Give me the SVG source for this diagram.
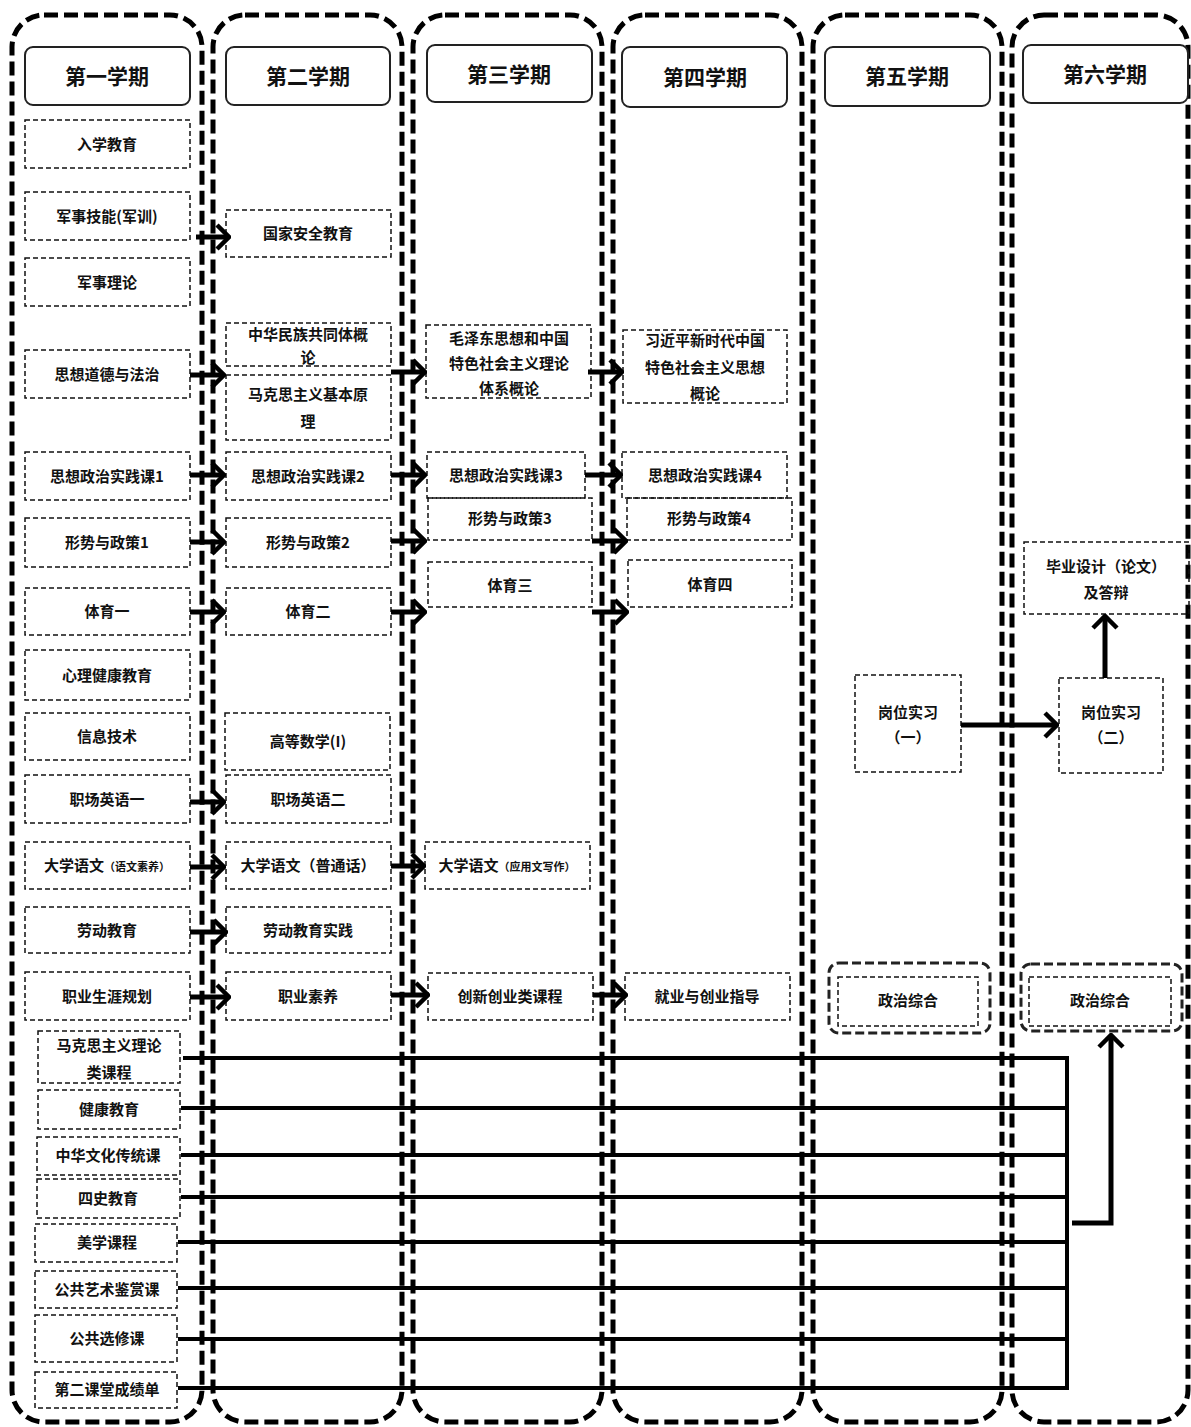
<svg xmlns="http://www.w3.org/2000/svg" width="1191" height="1427" viewBox="0 0 1191 1427">
<style>
.col{fill:none;stroke:#000;stroke-width:5;stroke-dasharray:14 6}
.hdr{fill:#fff;stroke:#222;stroke-width:2}
.box{fill:none;stroke:#111;stroke-width:1.5;stroke-dasharray:5 3}
.obox{fill:none;stroke:#222;stroke-width:3;stroke-dasharray:9 4}
.ht{font-family:"Noto Sans CJK SC","Noto Sans",sans-serif;font-size:21px;font-weight:bold;text-anchor:middle;fill:#111}
.t{font-family:"Noto Sans CJK SC","Noto Sans",sans-serif;font-size:15px;font-weight:bold;text-anchor:middle;fill:#111}
.s{font-size:11px}
.ar{fill:none;stroke:#000;stroke-width:5;marker-end:url(#ah)}
.ln{fill:none;stroke:#000;stroke-width:4}
</style>
<defs>
<marker id="ah" markerUnits="userSpaceOnUse" viewBox="0 0 16 28" refX="14" refY="14" markerWidth="16" markerHeight="28" orient="auto">
<path d="M2,2 L14,14 L2,26" fill="none" stroke="#000" stroke-width="4.5"/>
</marker>
</defs>
<rect width="1191" height="1427" fill="#fff"/>

<g id="semesters">
<rect class="col" x="12" y="15" width="190" height="1407" rx="32"/>
<rect class="col" x="213" y="15" width="189" height="1407" rx="32"/>
<rect class="col" x="413" y="15" width="189" height="1407" rx="32"/>
<rect class="col" x="613" y="15" width="189" height="1407" rx="32"/>
<rect class="col" x="813" y="15" width="189" height="1407" rx="32"/>
<rect class="col" x="1012" y="15" width="176" height="1407" rx="32"/>
</g>

<g id="h1"><rect class="hdr" x="25" y="47" width="165" height="58" rx="8"/><text class="ht" x="107" y="84">第一学期</text></g>
<g id="h2"><rect class="hdr" x="226" y="47" width="164" height="58" rx="8"/><text class="ht" x="308" y="84">第二学期</text></g>
<g id="h3"><rect class="hdr" x="427" y="45" width="165" height="57" rx="8"/><text class="ht" x="509" y="82">第三学期</text></g>
<g id="h4"><rect class="hdr" x="622" y="47" width="165" height="60" rx="8"/><text class="ht" x="705" y="85">第四学期</text></g>
<g id="h5"><rect class="hdr" x="825" y="47" width="165" height="59" rx="8"/><text class="ht" x="907" y="84">第五学期</text></g>
<g id="h6"><rect class="hdr" x="1023" y="45" width="165" height="58" rx="8"/><text class="ht" x="1105" y="82">第六学期</text></g>

<g id="c1-1"><rect class="box" x="25" y="120" width="165" height="48"/><text class="t" x="107" y="150">入学教育</text></g>
<g id="c1-2"><rect class="box" x="25" y="192" width="165" height="48"/><text class="t" x="107" y="222">军事技能(军训)</text></g>
<g id="c1-3"><rect class="box" x="25" y="258" width="165" height="48"/><text class="t" x="107" y="288">军事理论</text></g>
<g id="c1-4"><rect class="box" x="25" y="350" width="165" height="48"/><text class="t" x="107" y="380">思想道德与法治</text></g>
<g id="c1-5"><rect class="box" x="25" y="452" width="165" height="48"/><text class="t" x="107" y="482">思想政治实践课1</text></g>
<g id="c1-6"><rect class="box" x="25" y="518" width="165" height="49"/><text class="t" x="107" y="548">形势与政策1</text></g>
<g id="c1-7"><rect class="box" x="25" y="588" width="165" height="47"/><text class="t" x="107" y="617">体育一</text></g>
<g id="c1-8"><rect class="box" x="25" y="650" width="165" height="50"/><text class="t" x="107" y="681">心理健康教育</text></g>
<g id="c1-9"><rect class="box" x="25" y="713" width="165" height="47"/><text class="t" x="107" y="742">信息技术</text></g>
<g id="c1-10"><rect class="box" x="25" y="775" width="165" height="48"/><text class="t" x="107" y="805">职场英语一</text></g>
<g id="c1-11"><rect class="box" x="25" y="842" width="165" height="47"/><text class="t" x="107" y="871">大学语文<tspan class="s">（语文素养）</tspan></text></g>
<g id="c1-12"><rect class="box" x="25" y="907" width="165" height="46"/><text class="t" x="107" y="936">劳动教育</text></g>
<g id="c1-13"><rect class="box" x="25" y="972" width="165" height="48"/><text class="t" x="107" y="1002">职业生涯规划</text></g>

<g id="g1"><rect class="box" x="38" y="1031" width="142" height="52"/><text class="t" x="109" y="1051">马克思主义理论</text><text class="t" x="109" y="1078">类课程</text></g>
<g id="g2"><rect class="box" x="38" y="1090" width="142" height="39"/><text class="t" x="109" y="1115">健康教育</text></g>
<g id="g3"><rect class="box" x="37" y="1137" width="143" height="38"/><text class="t" x="108" y="1161">中华文化传统课</text></g>
<g id="g4"><rect class="box" x="37" y="1179" width="143" height="39"/><text class="t" x="108" y="1204">四史教育</text></g>
<g id="g5"><rect class="box" x="35" y="1224" width="142" height="38"/><text class="t" x="107" y="1248">美学课程</text></g>
<g id="g6"><rect class="box" x="35" y="1271" width="142" height="37"/><text class="t" x="107" y="1295">公共艺术鉴赏课</text></g>
<g id="g7"><rect class="box" x="35" y="1315" width="142" height="47"/><text class="t" x="107" y="1344">公共选修课</text></g>
<g id="g8"><rect class="box" x="35" y="1372" width="142" height="36"/><text class="t" x="107" y="1395">第二课堂成绩单</text></g>

<g id="c2-1"><rect class="box" x="226" y="210" width="165" height="47"/><text class="t" x="308" y="239">国家安全教育</text></g>
<g id="c2-2"><rect class="box" x="226" y="323" width="165" height="43"/><text class="t" x="308" y="340">中华民族共同体概</text><text class="t" x="308" y="363">论</text></g>
<g id="c2-3"><rect class="box" x="226" y="375" width="165" height="65"/><text class="t" x="308" y="400">马克思主义基本原</text><text class="t" x="308" y="427">理</text></g>
<g id="c2-4"><rect class="box" x="226" y="452" width="165" height="48"/><text class="t" x="308" y="482">思想政治实践课2</text></g>
<g id="c2-5"><rect class="box" x="226" y="518" width="165" height="49"/><text class="t" x="308" y="548">形势与政策2</text></g>
<g id="c2-6"><rect class="box" x="226" y="588" width="165" height="47"/><text class="t" x="308" y="617">体育二</text></g>
<g id="c2-7"><rect class="box" x="225" y="713" width="165" height="57"/><text class="t" x="308" y="747">高等数学(I)</text></g>
<g id="c2-8"><rect class="box" x="226" y="775" width="165" height="48"/><text class="t" x="308" y="805">职场英语二</text></g>
<g id="c2-9"><rect class="box" x="226" y="842" width="165" height="47"/><text class="t" x="308" y="871">大学语文（普通话）</text></g>
<g id="c2-10"><rect class="box" x="226" y="907" width="165" height="46"/><text class="t" x="308" y="936">劳动教育实践</text></g>
<g id="c2-11"><rect class="box" x="226" y="972" width="165" height="48"/><text class="t" x="308" y="1002">职业素养</text></g>

<g id="c3-1"><rect class="box" x="426" y="325" width="165" height="73"/><text class="t" x="509" y="344">毛泽东思想和中国</text><text class="t" x="509" y="369">特色社会主义理论</text><text class="t" x="509" y="394">体系概论</text></g>
<g id="c3-2"><rect class="box" x="427" y="452" width="158" height="46"/><text class="t" x="506" y="481">思想政治实践课3</text></g>
<g id="c3-3"><rect class="box" x="428" y="498" width="164" height="42"/><text class="t" x="510" y="524">形势与政策3</text></g>
<g id="c3-4"><rect class="box" x="428" y="562" width="164" height="45"/><text class="t" x="510" y="591">体育三</text></g>
<g id="c3-5"><rect class="box" x="425" y="842" width="165" height="47"/><text class="t" x="507" y="871">大学语文<tspan class="s">（应用文写作）</tspan></text></g>
<g id="c3-6"><rect class="box" x="428" y="973" width="165" height="47"/><text class="t" x="510" y="1002">创新创业类课程</text></g>

<g id="c4-1"><rect class="box" x="623" y="330" width="164" height="73"/><text class="t" x="705" y="346">习近平新时代中国</text><text class="t" x="705" y="373">特色社会主义思想</text><text class="t" x="705" y="399">概论</text></g>
<g id="c4-2"><rect class="box" x="622" y="452" width="165" height="46"/><text class="t" x="705" y="481">思想政治实践课4</text></g>
<g id="c4-3"><rect class="box" x="627" y="498" width="165" height="42"/><text class="t" x="709" y="524">形势与政策4</text></g>
<g id="c4-4"><rect class="box" x="628" y="560" width="164" height="47"/><text class="t" x="710" y="590">体育四</text></g>
<g id="c4-5"><rect class="box" x="625" y="973" width="165" height="47"/><text class="t" x="707" y="1002">就业与创业指导</text></g>

<g id="c5-1"><rect class="box" x="855" y="675" width="106" height="97"/><text class="t" x="908" y="718">岗位实习</text><text class="t" x="908" y="743">（一）</text></g>
<g id="c5-2"><rect class="obox" x="829" y="963" width="161" height="70" rx="10"/><rect class="box" x="838" y="977" width="140" height="49"/><text class="t" x="908" y="1006">政治综合</text></g>

<g id="c6-1"><rect class="box" x="1024" y="542" width="165" height="72"/><text class="t" x="1106" y="572">毕业设计（论文）</text><text class="t" x="1106" y="598">及答辩</text></g>
<g id="c6-2"><rect class="box" x="1059" y="678" width="104" height="95"/><text class="t" x="1111" y="718">岗位实习</text><text class="t" x="1111" y="743">（二）</text></g>
<g id="c6-3"><rect class="obox" x="1021" y="964" width="161" height="67" rx="10"/><rect class="box" x="1029" y="977" width="142" height="49"/><text class="t" x="1100" y="1006">政治综合</text></g>

<g id="connectors">
<path class="ar" d="M196,237 H229"/>
<path class="ar" d="M190,375 H224"/>
<path class="ar" d="M190,475 H224"/>
<path class="ar" d="M190,542 H224"/>
<path class="ar" d="M190,612 H224"/>
<path class="ar" d="M190,802 H224"/>
<path class="ar" d="M190,867 H224"/>
<path class="ar" d="M190,932 H226"/>
<path class="ar" d="M190,997 H229"/>

<path class="ar" d="M391,372 H425"/>
<path class="ar" d="M391,475 H425"/>
<path class="ar" d="M391,541 H425"/>
<path class="ar" d="M391,612 H425"/>
<path class="ar" d="M391,866 H424"/>
<path class="ar" d="M391,995 H428"/>

<path class="ar" d="M588,372 H622"/>
<path class="ar" d="M585,475 H621"/>
<path class="ar" d="M592,541 H626"/>
<path class="ar" d="M592,612 H627"/>
<path class="ar" d="M593,995 H626"/>

<path class="ar" d="M961,725 H1057"/>
<path class="ar" d="M1105,678 V616"/>

<path class="ln" d="M183,1058 H1067"/>
<path class="ln" d="M181,1108 H1067"/>
<path class="ln" d="M181,1155 H1067"/>
<path class="ln" d="M181,1197 H1067"/>
<path class="ln" d="M178,1242 H1067"/>
<path class="ln" d="M178,1288 H1067"/>
<path class="ln" d="M178,1339 H1067"/>
<path class="ln" d="M178,1388 H1067"/>
<path class="ln" d="M1067,1056 V1390"/>
<path class="ar" d="M1072,1223 H1111 V1035" stroke-linejoin="miter"/>
</g>
</svg>
